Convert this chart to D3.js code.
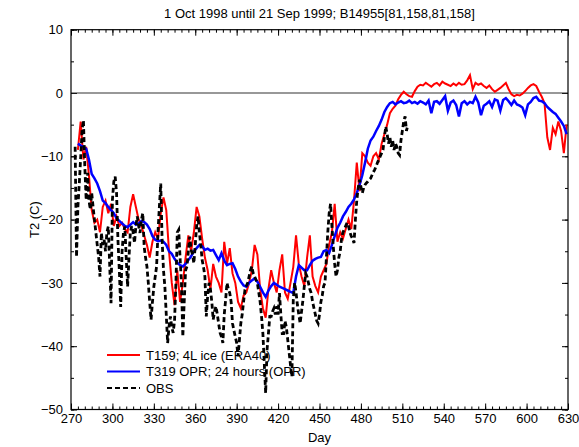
<!DOCTYPE html>
<html lang="en">
<head>
<meta charset="UTF-8">
<title>T2 B14955</title>
<script src="https://d3js.org/d3.v7.min.js"></script>
<style>
  body { margin: 0; background: white; }
  text { font-family: "Liberation Sans", Arial, sans-serif; }
</style>
</head>
<body>
<svg id="chart"></svg>
<script>
// T159 and T319: one value every 2 days from day 275; OBS: daily from day 273
const t159Start = 275, t319Start = 275, obsStart = 273;
const modelStep = 2, obsStep = 1;

const t159 = [
  -9, -4.5, -10.5, -8.5, -13, -18.5, -20.5, -20, -22, -18,
  -17, -19, -17.5, -21, -19.5, -21, -20.5, -21.5, -22, -18,
  -16, -18, -20, -21, -22.5, -24, -26, -23.5, -22, -23,
  -19, -16.5, -18.5, -25, -30, -33.5, -28, -33, -30, -26,
  -22.5, -25, -22, -18, -19.5, -23, -26, -28, -31, -27,
  -29, -30, -31.5, -23.5, -27, -24.5, -28.5, -30, -33, -34,
  -32, -31.5, -30, -28, -24, -25.5, -31, -34, -35.5, -31,
  -28, -30, -31.5, -28, -25.5, -31.5, -32.5, -30, -27.5, -22.5,
  -27, -29, -30.5, -26, -22.5, -29, -30.5, -31.5, -29, -28,
  -27, -24, -22, -17.5, -23.5, -22, -23, -21.5, -20, -21.5,
  -17, -11, -15.5, -9.5, -10, -11, -11.5, -10, -9.5, -10.5,
  -8, -6.5, -5, -3.2, -2.5, -2, -1, -0.3, 0.2, -0.2,
  -0.5, -0.6, 0.3, 1, 1.3, 1.2, 1.6, 1.3, 1, 1.4,
  1.6, 1.2, 1.8, 1.5, 1.3, 1.1, 1.5, 1.2, 1.6, 1.3,
  1.4, 2, 2.8, 0.6, 1.6, 1.3, 1.5, 1.1, 0.8, 1.2,
  0.6, 0.2, 0.5, 0.8, 1.2, 1.6, 0.6, -0.2, -0.5, -0.3,
  -0.4, -0.1, 0.3, 0.8, 1.2, 1.4, 1.1, 0.2, -0.6, -1.6,
  -7, -9, -5.5, -6.5, -4.5, -6, -9.5, -5
];

const t319 = [
  -8, -8.3, -8.5, -8.8, -10.5, -12.8, -13.5, -14.3, -15.5, -17,
  -17.4, -18, -18.5, -19, -19.8, -20.2, -20.6, -21, -21.2, -20.8,
  -20.4, -20.8, -20.6, -20.2, -20.4, -20.8, -21.5, -22.6, -23.2, -23.4,
  -23.3, -23.5, -24, -25, -25.4, -26.2, -26.8, -27.2, -27.4, -27,
  -26.4, -25.8, -25, -24.5, -24, -24.2, -24.8, -24.6, -24.9, -24.8,
  -25.6, -26.4, -25.3, -26.5, -27.2, -27, -26.9, -27.8, -29, -29.8,
  -30.4, -30.6, -30, -29.6, -29.3, -29.8, -30.6, -31.5, -32.2, -31.2,
  -30.5, -30, -30.3, -30.6, -30.8, -31, -31.2, -31.4, -31.6, -29,
  -27.2, -27.6, -28, -28, -27.2, -26.5, -26.2, -26, -25.9, -25,
  -24.8, -25.3, -24, -22.6, -21.3, -20.5, -19.5, -18.8, -18, -17.5,
  -16.8, -15.8, -14.5, -13, -11, -8.8, -7.5, -6.9, -6, -5.2,
  -4.2, -3, -2.2, -1.6, -1.4, -1.8, -1.5, -1.3, -1.6, -1.5,
  -1.2, -1.6, -1.4, -1.7, -1.3, -1.5, -1.8, -1.2, -3.2, -1.4,
  -1.3, -1.7, -1.1, -0.5, -2.8, -1.5, -1.2, -1.9, -3.7, -1.6,
  -1.3, -1.8, -1.4, -1.6, -0.6, -1.5, -3.5, -2, -1.7, -1.3,
  -2.2, -1, -1.2, -2.8, -1.1, -0.8, -1.3, -1.9, -1.2, -1.8,
  -2, -2.3, -3.5, -1.8, -1.4, -0.8, -0.6, -1.2, -1.3, -1.6,
  -2.2, -2.6, -3, -3.3, -3.9, -4.5, -5.2, -6.5
];

const obs = [
  -8.5, -25.9, -18, -14.3, -10.2, -6, -4.3, -11.6, -16.9, -12.6,
  -17, -18.4, -15.8, -18, -20, -22, -24, -25.9, -29, -22.1,
  -24, -23.2, -25, -22, -21.1, -27, -33.2, -16.9, -14, -13.2,
  -15.8, -23.2, -28, -33.8, -25, -22.1, -21.1, -26, -30.6, -26,
  -22, -21, -22, -23.7, -21, -19.5, -21, -22.1, -20, -19,
  -24.3, -26, -27.4, -30, -33, -35.8, -33, -30.6, -29, -27.4,
  -22, -18, -14.3, -23.2, -28, -30.6, -35, -39.5, -36.9, -35.3,
  -37, -37.9, -36, -30, -22, -21.6, -26, -30, -38.5, -33,
  -28, -27.4, -25, -22.7, -24.8, -25.5, -26.9, -24, -21, -19.5,
  -22.1, -24, -26.4, -27.5, -29, -35.3, -32, -30, -31, -33,
  -35.8, -34.5, -33.7, -35, -36.5, -37.9, -38.5, -39.5, -35, -32.7,
  -30, -31, -31.6, -33, -36.4, -37.5, -38.5, -39.5, -41.6, -39,
  -36.4, -35, -33, -31.1, -30.5, -30, -29, -28, -27.4, -28.5,
  -29, -29.5, -30, -31.5, -33, -35.3, -38, -42.7, -47.4, -40.6,
  -38, -35.3, -35.3, -34.5, -34, -35, -33.7, -35, -31.6, -35,
  -38, -38, -36, -37, -39, -41, -43, -44.8, -32.7, -30,
  -31.5, -33.5, -35, -36.4, -34.5, -32.7, -30.5, -28.5, -29, -30,
  -31, -31.6, -33, -34, -35, -36, -36.4, -35, -33, -32,
  -30.5, -30, -26, -22, -19, -17.5, -21, -24.3, -27, -29,
  -28, -26, -25, -23, -22, -21.5, -21, -20.5, -21, -22,
  -22.6, -23, -23.7, -20, -17, -15, -13.7, -14.8, -15.8, -15,
  -14.5, -14.2, -14, -13.7, -13.5, -13, -12.5, -12.1, -11.6, -11,
  -10.5, -10, -9.5, -9, -7, -5.3, -6.5, -8, -7, -8.5,
  -7.5, -9, -8, -8.5, -9.5, -9.8, -7.5, -6, -4.5, -3.7,
  -6, -5
];

const xTicks = d3.range(270, 631, 30);
const yTicks = d3.range(-50, 11, 10);
const legendLabels = ["T159; 4L ice (ERA40)", "T319 OPR; 24 hours (OPR)", "OBS"];
const title = "1 Oct 1998 until 21 Sep 1999; B14955[81,158,81,158]";

const width = 579, height = 447;
const plotL = 71, plotR = 568, plotT = 29.7, plotB = 409.5;

const svg = d3.select("#chart")
  .attr("width", width)
  .attr("height", height);

const x = d3.scaleLinear().domain([270, 630]).range([plotL, plotR]);
const y = d3.scaleLinear().domain([-50, 10]).range([plotB, plotT]);

const fmt = d => d < 0 ? "\u2212" + Math.abs(d) : String(d);

// title + axis labels
svg.append("text")
  .attr("x", (plotL + plotR) / 2).attr("y", 18)
  .attr("text-anchor", "middle").attr("font-size", 13)
  .text(title);

svg.append("text")
  .attr("x", (plotL + plotR) / 2).attr("y", 442)
  .attr("text-anchor", "middle").attr("font-size", 13)
  .text("Day");

svg.append("text")
  .attr("transform", `translate(39,${(plotT + plotB) / 2}) rotate(-90)`)
  .attr("text-anchor", "middle").attr("font-size", 13)
  .text("T2 (C)");

// axes, ticks pointing inward
function styleAxis(g) {
  g.select(".domain").remove();
  g.selectAll("line").attr("stroke", "#000");
  g.selectAll("text").attr("font-size", 13).attr("fill", "#000");
}

svg.append("g").attr("transform", `translate(0,${plotB})`)
  .call(d3.axisBottom(x).tickValues(xTicks).tickSize(-6).tickPadding(4).tickFormat(fmt))
  .call(styleAxis);
svg.append("g").attr("transform", `translate(0,${plotB})`)
  .call(d3.axisBottom(x).tickValues(d3.range(270, 631, 5)).tickSize(-3).tickFormat(""))
  .call(styleAxis);
svg.append("g").attr("transform", `translate(0,${plotT})`)
  .call(d3.axisTop(x).tickValues(xTicks).tickSize(-6).tickFormat(""))
  .call(styleAxis);
svg.append("g").attr("transform", `translate(0,${plotT})`)
  .call(d3.axisTop(x).tickValues(d3.range(270, 631, 5)).tickSize(-3).tickFormat(""))
  .call(styleAxis);

svg.append("g").attr("transform", `translate(${plotL},0)`)
  .call(d3.axisLeft(y).tickValues(yTicks).tickSize(-6).tickPadding(8).tickFormat(fmt))
  .call(styleAxis);
svg.append("g").attr("transform", `translate(${plotL},0)`)
  .call(d3.axisLeft(y).tickValues(d3.range(-50, 11, 5)).tickSize(-3).tickFormat(""))
  .call(styleAxis);
svg.append("g").attr("transform", `translate(${plotR},0)`)
  .call(d3.axisRight(y).tickValues(yTicks).tickSize(-6).tickFormat(""))
  .call(styleAxis);
svg.append("g").attr("transform", `translate(${plotR},0)`)
  .call(d3.axisRight(y).tickValues(d3.range(-50, 11, 5)).tickSize(-3).tickFormat(""))
  .call(styleAxis);

// zero line
svg.append("line")
  .attr("x1", plotL).attr("x2", plotR)
  .attr("y1", y(0)).attr("y2", y(0))
  .attr("stroke", "#333").attr("stroke-width", 1.2);

// legend (drawn under the data, like the original)
const legendColors = ["#ff0000", "#0000ff", "#000"];
const legend = svg.append("g");
legendLabels.forEach((lab, i) => {
  const ly = 355 + i * 16.5;
  legend.append("line")
    .attr("x1", 107).attr("x2", 140).attr("y1", ly).attr("y2", ly)
    .attr("stroke", legendColors[i]).attr("stroke-width", 2.2)
    .attr("stroke-dasharray", i === 2 ? "5,3" : null);
  legend.append("text")
    .attr("x", 146).attr("y", ly + 4.5).attr("font-size", 13)
    .text(lab);
});

// data lines
svg.append("clipPath").attr("id", "clip")
  .append("rect").attr("x", plotL).attr("y", plotT)
  .attr("width", plotR - plotL).attr("height", plotB - plotT);

const plot = svg.append("g").attr("clip-path", "url(#clip)");

function seriesLine(start, step) {
  return d3.line().x((d, i) => x(start + i * step)).y(d => y(d));
}

plot.append("path").datum(t159)
  .attr("d", seriesLine(t159Start, modelStep))
  .attr("fill", "none").attr("stroke", "#ff0000").attr("stroke-width", 2);

plot.append("path").datum(t319)
  .attr("d", seriesLine(t319Start, modelStep))
  .attr("fill", "none").attr("stroke", "#0000ff").attr("stroke-width", 2.5);

plot.append("path").datum(obs)
  .attr("d", seriesLine(obsStart, obsStep))
  .attr("fill", "none").attr("stroke", "#000").attr("stroke-width", 2.8)
  .attr("stroke-dasharray", "5,3");

// frame
svg.append("rect")
  .attr("x", plotL).attr("y", plotT)
  .attr("width", plotR - plotL).attr("height", plotB - plotT)
  .attr("fill", "none").attr("stroke", "#000").attr("stroke-width", 1.2);
</script>
</body>
</html>
